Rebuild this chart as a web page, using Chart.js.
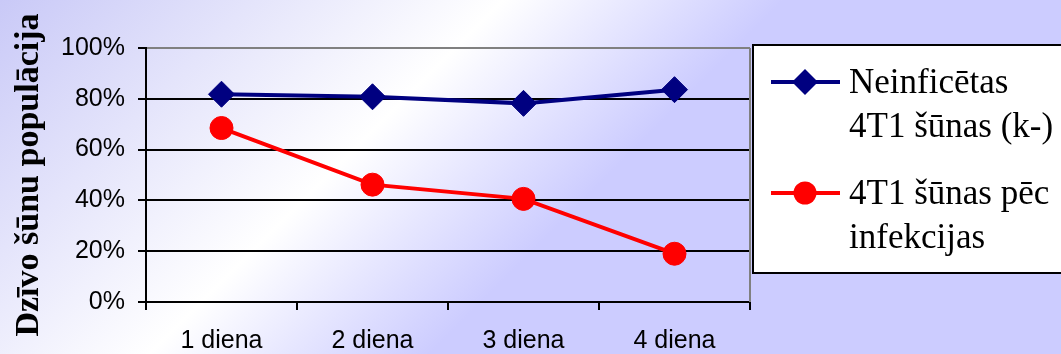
<!DOCTYPE html>
<html lang="lv">
<head>
    <meta charset="UTF-8">
    <title>Dzīvo šūnu populācija</title>
    <script src="https://cdn.jsdelivr.net/npm/chart.js"></script>
    <style>
        html, body { margin: 0; padding: 0; background: #fff; }
        #wrap { width: 1061px; height: 354px; }
    </style>
    <script>
        // dati nolasīti no attēla
        const dienas = ['1 diena', '2 diena', '3 diena', '4 diena'];
        const neinficetas = [81.8, 80.8, 78.2, 83.6];
        const pecInfekcijas = [68.5, 46.2, 40.6, 19.0];
        const legendLines = [
            ['Neinficētas', '4T1 šūnas (k-)'],
            ['4T1 šūnas pēc', 'infekcijas']
        ];
        const yTicks = [0, 20, 40, 60, 80, 100];

        const serif = '"Liberation Serif", "Times New Roman", serif';
        const sans = '"Liberation Sans", Arial, sans-serif';

        // fons ar diagonālu baltu joslu
        const bgPlugin = {
            id: 'bg',
            beforeDraw(chart) {
                const c = chart.ctx;
                const g = c.createLinearGradient(0, 0, 700, 700);
                g.addColorStop(0, '#c9c9f7');
                g.addColorStop(0.36, '#ffffff');
                g.addColorStop(0.56, '#ccccff');
                g.addColorStop(1, '#ccccff');
                c.save();
                c.fillStyle = g;
                c.fillRect(0, 0, chart.width, chart.height);
                c.restore();
            }
        };

        // labā mala + leģenda ar vairākrindu tekstu
        const boxPlugin = {
            id: 'box',
            afterDraw(chart) {
                const c = chart.ctx;
                const a = chart.chartArea;
                c.save();
                c.strokeStyle = '#808080';
                c.lineWidth = 2;
                c.beginPath();
                c.moveTo(a.right, a.top);
                c.lineTo(a.right, a.bottom);
                c.stroke();

                // leģendas rāmis
                c.fillStyle = '#fff';
                c.fillRect(753, 45, 320, 228);
                c.strokeStyle = '#000';
                c.strokeRect(753, 45, 320, 228);

                const rows = [82, 193];
                chart.data.datasets.forEach((ds, i) => {
                    const y = rows[i];
                    c.strokeStyle = ds.borderColor;
                    c.lineWidth = ds.borderWidth;
                    c.beginPath();
                    c.moveTo(771, y);
                    c.lineTo(840, y);
                    c.stroke();
                    c.fillStyle = ds.backgroundColor;
                    const x = 805, r = ds.pointRadius;
                    c.beginPath();
                    if (ds.pointStyle === 'rectRot') {
                        c.moveTo(x, y - r);
                        c.lineTo(x + r, y);
                        c.lineTo(x, y + r);
                        c.lineTo(x - r, y);
                        c.closePath();
                    } else {
                        c.arc(x, y, r, 0, Math.PI * 2);
                    }
                    c.fill();

                    c.fillStyle = '#000';
                    c.font = '35px ' + serif;
                    c.textBaseline = 'alphabetic';
                    legendLines[i].forEach((t, k) => {
                        c.fillText(t, 849, y + 11 + k * 44);
                    });
                });
                c.restore();
            }
        };

        window.addEventListener('load', function () {
            const ctx = document.getElementById('myChart');
            new Chart(ctx, {
                type: 'line',
                data: {
                    labels: dienas,
                    datasets: [{
                        label: 'Neinficētas 4T1 šūnas (k-)',
                        data: neinficetas,
                        borderColor: '#000080',
                        backgroundColor: '#000080',
                        borderWidth: 4,
                        pointStyle: 'rectRot',
                        pointRadius: 13,
                        pointBorderWidth: 1
                    }, {
                        label: '4T1 šūnas pēc infekcijas',
                        data: pecInfekcijas,
                        borderColor: '#ff0000',
                        backgroundColor: '#ff0000',
                        borderWidth: 4,
                        pointStyle: 'circle',
                        pointRadius: 11.5,
                        pointBorderWidth: 1
                    }]
                },
                options: {
                    responsive: false,
                    animation: false,
                    layout: { padding: { top: 48, right: 311, bottom: 0, left: 0 } },
                    plugins: {
                        legend: { display: false },
                        tooltip: { enabled: false }
                    },
                    scales: {
                        x: {
                            offset: true,
                            grid: { offset: true, drawOnChartArea: false, tickLength: 8, color: '#000', lineWidth: 2 },
                            border: { color: '#000', width: 2 },
                            ticks: { color: '#000', padding: 16, font: { family: sans, size: 25 } },
                            afterFit: s => { s.height = 52; }
                        },
                        y: {
                            min: 0,
                            max: 100,
                            afterBuildTicks: s => { s.ticks = yTicks.map(v => ({ value: v })); },
                            ticks: {
                                color: '#000',
                                padding: 13,
                                font: { family: sans, size: 25 },
                                callback: v => v + '%'
                            },
                            grid: {
                                color: c => (c.tick && c.tick.value === 100) ? '#808080' : '#000',
                                tickColor: '#000',
                                lineWidth: 2,
                                tickLength: 8
                            },
                            border: { color: '#000', width: 2 },
                            title: {
                                display: true,
                                text: 'Dzīvo šūnu populācija',
                                color: '#000',
                                font: { family: serif, size: 34, weight: 'bold' },
                                padding: { top: 9, bottom: 0 }
                            },
                            afterFit: s => { s.width = 146; }
                        }
                    }
                },
                plugins: [bgPlugin, boxPlugin]
            });
        });
    </script>
</head>
<body>
    <div id="wrap">
        <canvas id="myChart" width="1061" height="354"></canvas>
    </div>
</body>
</html>
